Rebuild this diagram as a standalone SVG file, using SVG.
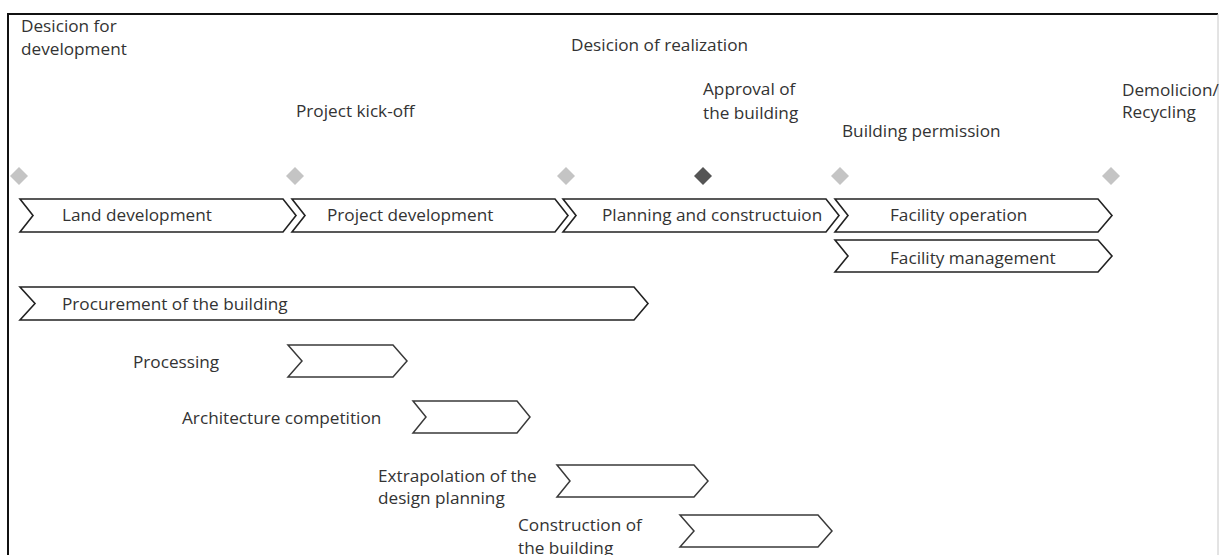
<svg xmlns="http://www.w3.org/2000/svg" width="1220" height="555" viewBox="0 0 1220 555">
<style>
.t{font-family:"Open Sans","Noto Sans",sans-serif;font-size:17.2px;fill:#333}
.cv{fill:#fff;stroke:#222;stroke-width:1.6;stroke-linejoin:miter}
.cs{fill:#fff;stroke:#3a3a3a;stroke-width:1.5}
.dm{fill:#c4c4c4}
.dd{fill:#555}
</style>
<rect x="0" y="0" width="1220" height="555" fill="#fff"/>
<g id="frame">
<path d="M8,555 V14 H1218" fill="none" stroke="#111" stroke-width="2"/>
<path d="M1218,14 V555" fill="none" stroke="#c8c8c8" stroke-width="1"/>
</g>
<g id="milestones">
<g id="m1"><path class="dm" d="M19,167 L28,176 L19,185 L10,176 Z"/><text class="t" x="21" y="32">Desicion for</text><text class="t" x="21" y="55">development</text></g>
<g id="m2"><path class="dm" d="M295,167 L304,176 L295,185 L286,176 Z"/><text class="t" x="296" y="117">Project kick-off</text></g>
<g id="m3"><path class="dm" d="M566,167 L575,176 L566,185 L557,176 Z"/><text class="t" x="571" y="51">Desicion of realization</text></g>
<g id="m4"><path class="dd" d="M703,167 L712,176 L703,185 L694,176 Z"/><text class="t" x="703" y="95">Approval of</text><text class="t" x="703" y="119">the building</text></g>
<g id="m5"><path class="dm" d="M840,167 L849,176 L840,185 L831,176 Z"/><text class="t" x="842" y="137">Building permission</text></g>
<g id="m6"><path class="dm" d="M1111,167 L1120,176 L1111,185 L1102,176 Z"/><text class="t" x="1122" y="96">Demolicion/</text><text class="t" x="1122" y="118">Recycling</text></g>
</g>
<g id="phases">
<g id="land"><path class="cv" d="M20,199 H283 L296,215.5 L283,232 H20 L33,215.5 Z"/><text class="t" x="62" y="221">Land development</text></g>
<g id="project"><path class="cv" d="M292,199 H555 L568,215.5 L555,232 H292 L305,215.5 Z"/><text class="t" x="327" y="221">Project development</text></g>
<g id="planning"><path class="cv" d="M563,199 H826 L839,215.5 L826,232 H563 L576,215.5 Z"/><text class="t" x="602" y="221">Planning and constructuion</text></g>
<g id="operation"><path class="cv" d="M835,199 H1098 L1112,215.5 L1098,232 H835 L848,215.5 Z"/><text class="t" x="890" y="221">Facility operation</text></g>
<g id="management"><path class="cv" d="M835,240 H1098 L1112,256 L1098,272 H835 L848,256 Z"/><text class="t" x="890" y="264">Facility management</text></g>
<g id="procurement"><path class="cv" d="M20,287 H634 L648,303.5 L634,320 H20 L35,303.5 Z"/><text class="t" x="62" y="310">Procurement of the building</text></g>
</g>
<g id="tasks">
<g id="processing"><path class="cs" d="M288,345 H393 L407,361 L393,377 H288 L302,361 Z"/><text class="t" x="133" y="368">Processing</text></g>
<g id="architecture"><path class="cs" d="M413,401 H517 L530,417 L517,433 H413 L426,417 Z"/><text class="t" x="182" y="424">Architecture competition</text></g>
<g id="extrapolation"><path class="cs" d="M557,465 H694 L708,481 L694,497 H557 L570,481 Z"/><text class="t" x="378" y="482">Extrapolation of the</text><text class="t" x="378" y="504">design planning</text></g>
<g id="construction"><path class="cs" d="M680,515 H818 L832,531 L818,547 H680 L694,531 Z"/><text class="t" x="518" y="531">Construction of</text><text class="t" x="518" y="554">the building</text></g>
</g>
<g id="connectors"></g>
</svg>
